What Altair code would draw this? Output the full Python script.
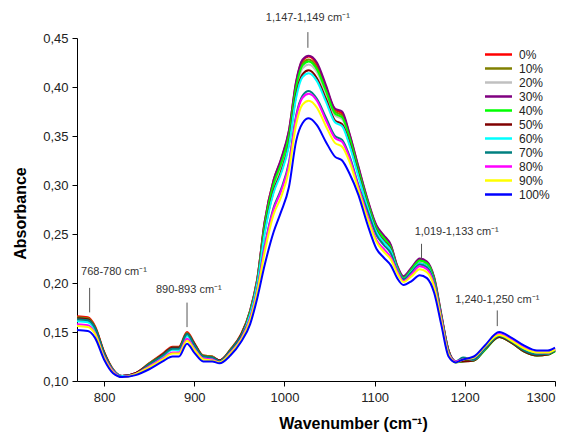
import altair as alt
import pandas as pd

# ---------------- data ----------------
wavenumber = [770, 782, 790, 800, 810, 820, 835, 850, 865, 876, 883, 892, 900, 910, 920, 928,
              940, 952, 962, 970, 978, 988, 996, 1005, 1013, 1020, 1027, 1036, 1046, 1056, 1064,
              1072, 1082, 1092, 1102, 1110, 1118, 1125, 1132, 1141, 1150, 1158, 1166, 1174, 1182,
              1190, 1198, 1210, 1222, 1238, 1252, 1266, 1280, 1292, 1300]

series_names = ["0%", "10%", "20%", "30%", "40%", "50%", "60%", "70%", "80%", "90%", "100%"]
series_colors = ["#FF0000", "#808000", "#C0C0C0", "#800080", "#00FF00", "#800000",
                 "#00FFFF", "#008080", "#FF00FF", "#FFFF00", "#0000FF"]

s0 = [.166, .165, .156, .130, .112, .105, .108, .118, .128, .135, .135, .150, .139, .126, .125, .121,
      .132, .148, .172, .205, .262, .305, .325, .355, .405, .427, .431, .423, .400, .377, .373,
      .352, .318, .285, .258, .248, .238, .217, .206, .215, .224, .221, .205, .167, .131,
      .120, .121, .122, .133, .146, .140, .131, .127, .128, .132]
s10 = [.165, .164, .155, .129, .112, .105, .108, .118, .127, .134, .134, .149, .138, .126, .125, .121,
       .132, .147, .171, .204, .260, .302, .322, .352, .402, .424, .428, .420, .397, .375, .371,
       .350, .316, .284, .257, .247, .237, .216, .206, .214, .223, .220, .204, .166, .131,
       .120, .121, .121, .132, .145, .139, .130, .126, .127, .131]
s20 = [.162, .161, .152, .128, .111, .105, .107, .116, .126, .132, .132, .146, .136, .124, .124, .120,
       .130, .146, .170, .202, .256, .299, .318, .348, .397, .419, .423, .415, .393, .371, .367,
       .347, .314, .282, .255, .245, .235, .215, .205, .213, .222, .219, .203, .166, .130,
       .120, .121, .122, .133, .146, .140, .131, .127, .128, .131]
s30 = [.164, .163, .154, .129, .111, .105, .108, .117, .127, .134, .134, .148, .138, .125, .124, .121,
       .131, .147, .172, .205, .262, .305, .326, .356, .406, .428, .432, .425, .402, .378, .375,
       .353, .319, .286, .259, .249, .239, .218, .207, .216, .225, .222, .206, .168, .131,
       .120, .121, .122, .133, .146, .140, .131, .127, .128, .132]
s40 = [.164, .163, .154, .129, .111, .104, .107, .117, .127, .134, .134, .148, .138, .125, .124, .120,
       .131, .147, .171, .203, .258, .301, .321, .350, .400, .422, .426, .418, .396, .373, .369,
       .349, .315, .283, .256, .246, .236, .216, .205, .214, .223, .220, .204, .166, .130,
       .119, .120, .121, .131, .145, .139, .130, .126, .127, .130]
s50 = [.164, .163, .154, .129, .111, .105, .108, .117, .127, .134, .134, .148, .138, .125, .124, .121,
       .131, .147, .169, .201, .252, .294, .313, .342, .392, .413, .417, .409, .388, .366, .362,
       .343, .311, .279, .253, .243, .234, .214, .204, .212, .220, .217, .202, .165, .130,
       .120, .120, .121, .132, .145, .139, .130, .126, .127, .131]
s60 = [.161, .160, .152, .127, .111, .105, .107, .116, .125, .132, .131, .146, .135, .124, .123, .120,
       .130, .145, .168, .200, .250, .292, .311, .340, .389, .410, .414, .406, .385, .364, .360,
       .341, .309, .278, .252, .242, .233, .214, .204, .212, .220, .217, .201, .164, .129,
       .120, .123, .122, .133, .147, .141, .132, .128, .128, .132]
s70 = [.163, .162, .154, .128, .111, .104, .107, .117, .126, .133, .133, .148, .137, .125, .124, .120,
       .131, .146, .164, .194, .237, .277, .295, .323, .371, .391, .396, .388, .369, .350, .346,
       .330, .300, .274, .249, .239, .230, .213, .204, .211, .219, .216, .200, .164, .129,
       .120, .124, .122, .133, .146, .140, .131, .127, .128, .131]
s80 = [.158, .157, .149, .125, .110, .104, .107, .115, .123, .129, .129, .143, .133, .123, .122, .119,
       .129, .143, .164, .193, .236, .275, .293, .321, .369, .389, .393, .386, .366, .348, .344,
       .328, .298, .269, .244, .235, .226, .212, .202, .209, .217, .214, .198, .163, .128,
       .120, .122, .124, .135, .148, .142, .134, .129, .129, .133]
s90 = [.156, .155, .148, .124, .109, .104, .107, .114, .122, .128, .128, .141, .132, .122, .121, .119,
       .128, .142, .162, .191, .231, .270, .287, .315, .362, .382, .386, .379, .360, .343, .339,
       .324, .295, .266, .242, .232, .224, .210, .201, .207, .214, .211, .196, .161, .127,
       .119, .122, .124, .135, .147, .141, .133, .129, .129, .132]
s100 = [.152, .151, .144, .122, .108, .104, .106, .112, .120, .125, .125, .138, .129, .120, .120, .118,
        .126, .140, .158, .185, .218, .252, .272, .298, .345, .363, .368, .361, .344, .329, .325,
        .312, .290, .260, .235, .226, .218, .205, .198, .202, .208, .205, .190, .157, .125,
        .119, .122, .125, .136, .150, .144, .136, .131, .131, .134]

series_values = [s0, s10, s20, s30, s40, s50, s60, s70, s80, s90, s100]

ann_text = ["768-780 cm\u207b\u00b9", "890-893 cm\u207b\u00b9", "1,147-1,149 cm\u207b\u00b9",
            "1,019-1,133 cm\u207b\u00b9", "1,240-1,250 cm\u207b\u00b9"]
ann_text_x = [811, 894, 1026, 1191, 1236]
ann_text_y = [0.211, 0.193, 0.470, 0.252, 0.183]
ann_line_x = [784, 892, 1026, 1152, 1236]
ann_line_top = [0.195, 0.180, 0.456, 0.240, 0.172]
ann_line_bottom = [0.170, 0.155, 0.440, 0.224, 0.156]

x_ticks = [800, 900, 1000, 1100, 1200, 1300]
y_ticks = [0.10, 0.15, 0.20, 0.25, 0.30, 0.35, 0.40, 0.45]

# ---------------- tables ----------------
rows = []
for name, vals in zip(series_names, series_values):
    for w, v in zip(wavenumber, vals):
        rows.append({"wn": w, "abs": v, "series": name})
df = pd.DataFrame(rows)

ann = pd.DataFrame({"text": ann_text, "tx": ann_text_x, "ty": ann_text_y,
                    "lx": ann_line_x, "ly1": ann_line_top, "ly2": ann_line_bottom})

FONT = "Liberation Sans"
x_scale = alt.Scale(domain=[770, 1300], nice=False, zero=False)
y_scale = alt.Scale(domain=[0.10, 0.45], nice=False, zero=False)

lines = alt.Chart(df).mark_line(strokeWidth=2, interpolate="monotone").encode(
    x=alt.X("wn:Q", scale=x_scale, title="Wavenumber (cm\u207b\u00b9)",
            axis=alt.Axis(values=x_ticks, format="d", grid=False, tickSize=5,
                          labelFont=FONT, labelFontSize=13, labelColor="#222222",
                          labelPadding=5, domainColor="black", tickColor="black",
                          titleFont=FONT, titleFontSize=16, titleFontWeight="bold",
                          titleColor="black", titleX=276, titleY=42,
                          titleBaseline="middle", titleAlign="center")),
    y=alt.Y("abs:Q", scale=y_scale, title="Absorbance",
            axis=alt.Axis(values=y_ticks, grid=False, tickSize=5,
                          labelExpr="replace(format(datum.value, '.2f'), '.', ',')",
                          labelFont=FONT, labelFontSize=13, labelColor="#222222",
                          labelPadding=4, domainColor="black", tickColor="black",
                          titleFont=FONT, titleFontSize=16, titleFontWeight="bold",
                          titleColor="black", titleX=-57, titleY=175,
                          titleBaseline="middle", titleAlign="center")),
    color=alt.Color("series:N", sort=series_names,
                    scale=alt.Scale(domain=series_names, range=series_colors),
                    legend=alt.Legend(title=None, orient="none", legendX=414, legendY=9,
                                      symbolType="M-2.25,0L2.25,0", symbolSize=144,
                                      symbolStrokeWidth=2.5, labelFont=FONT,
                                      labelFontSize=12, labelColor="#222222",
                                      labelOffset=13, rowPadding=0, padding=0)),
)

rules = alt.Chart(ann).mark_rule(color="#555555", strokeWidth=1).encode(
    x=alt.X("lx:Q", scale=x_scale),
    y=alt.Y("ly1:Q", scale=y_scale),
    y2="ly2:Q",
)

texts = alt.Chart(ann).mark_text(font=FONT, fontSize=11, color="#333333",
                                 align="center", baseline="middle").encode(
    x=alt.X("tx:Q", scale=x_scale),
    y=alt.Y("ty:Q", scale=y_scale),
    text="text:N",
)

chart = alt.layer(lines, rules, texts).properties(
    width=478, height=343,
    padding={"left": 69, "top": 30, "right": 9, "bottom": 51},
    autosize=alt.AutoSizeParams(type="none"),
).configure_view(stroke=None)

chart.save("out.html", embed_options={"renderer": "svg", "actions": False})
